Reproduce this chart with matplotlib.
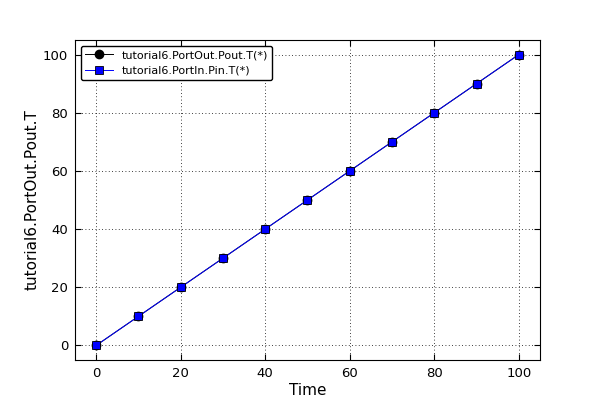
import matplotlib
matplotlib.use("Agg")
import matplotlib.pyplot as plt

time = [0, 10, 20, 30, 40, 50, 60, 70, 80, 90, 100]
pout_t = [0, 10, 20, 30, 40, 50, 60, 70, 80, 90, 100]
pin_t = [0, 10, 20, 30, 40, 50, 60, 70, 80, 90, 100]

fig = plt.figure(figsize=(6, 4), dpi=100)
ax = fig.add_axes([0.125, 0.1, 0.775, 0.8])

ax.plot(time, pout_t, color="black", marker="o", markersize=6, linewidth=0.7,
        label="tutorial6.PortOut.Pout.T(*)")
ax.plot(time, pin_t, color="blue", marker="s", markersize=6, linewidth=0.7,
        markeredgecolor="black", markeredgewidth=0.6,
        label="tutorial6.PortIn.Pin.T(*)")

ax.set_xlim(-5, 105)
ax.set_ylim(-5, 105)
ax.set_xlabel("Time", fontsize=11, labelpad=2)
ax.set_ylabel("tutorial6.PortOut.Pout.T", fontsize=11, labelpad=2)
ax.tick_params(direction="in", top=True, right=True, labelsize=9.5, length=4, pad=5)
ax.grid(True, color="black", linestyle=(0, (1, 3)), linewidth=0.6)
leg = ax.legend(loc="upper left", fontsize=8, numpoints=1, fancybox=True,
                framealpha=1, handlelength=2.5)
leg.get_frame().set_edgecolor("black")

fig.savefig("out.png", dpi=100)
